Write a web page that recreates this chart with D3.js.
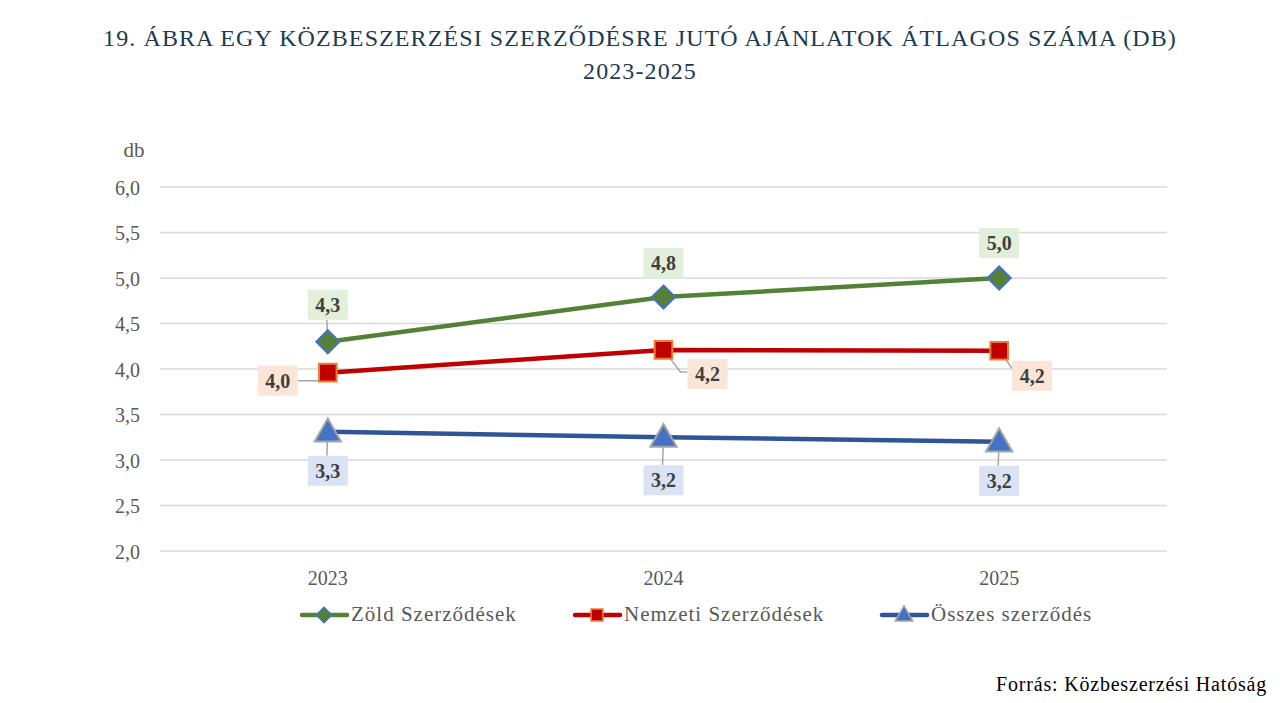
<!DOCTYPE html>
<html lang="hu">
<head>
<meta charset="UTF-8">
<title>Ajánlatok átlagos száma</title>
<script src="https://cdn.jsdelivr.net/npm/d3@7/dist/d3.min.js"></script>
<style>
  body{margin:0;background:#fff;}
  svg text{font-family:"Liberation Serif","DejaVu Serif",serif;}
</style>
</head>
<body>
<div id="chart"></div>
<script>
// data
var years=["2023","2024","2025"];
var zold=[4.3,4.79,5.0];
var nemzeti=[3.96,4.21,4.2];
var osszes=[3.31,3.25,3.2];
var zoldLabels=["4,3","4,8","5,0"];
var nemzetiLabels=["4,0","4,2","4,2"];
var osszesLabels=["3,3","3,2","3,2"];
var yTicks=[2.0,2.5,3.0,3.5,4.0,4.5,5.0,5.5,6.0];

var W=1280,H=703;
var svg=d3.select("#chart").append("svg").attr("width",W).attr("height",H);

var x=d3.scaleBand().domain(years).range([160,1167]);
var y=d3.scaleLinear().domain([2,6]).range([551,187]);
var cx=function(i){return x(years[i])+x.bandwidth()/2;};
var fmt=function(v){return d3.format(".1f")(v).replace(".",",");};

// title
svg.append("text").attr("x",640).attr("y",46).attr("text-anchor","middle")
  .attr("font-size",24).attr("letter-spacing",1.1).attr("fill","#1d3b4f")
  .text("19. ÁBRA EGY KÖZBESZERZÉSI SZERZŐDÉSRE JUTÓ AJÁNLATOK ÁTLAGOS SZÁMA (DB)");
svg.append("text").attr("x",640).attr("y",79).attr("text-anchor","middle")
  .attr("font-size",24).attr("letter-spacing",1.1).attr("fill","#1d3b4f").text("2023-2025");

// grid
svg.append("g").selectAll("line").data(yTicks).enter().append("line")
  .attr("x1",160).attr("x2",1167)
  .attr("y1",function(d){return y(d);}).attr("y2",function(d){return y(d);})
  .attr("stroke","#d9d9d9").attr("stroke-width",1.5);

// y axis labels
var yAxis=d3.axisLeft(y).tickValues(yTicks).tickFormat(fmt).tickSize(0).tickPadding(0);
var ya=svg.append("g").attr("transform","translate(140,0)").call(yAxis);
ya.select(".domain").remove();
ya.selectAll("text").attr("font-size",20).attr("fill","#595959")
  .style("font-family","'Liberation Serif',serif").attr("dy","0.35em");
svg.append("text").attr("x",134).attr("y",157).attr("text-anchor","middle")
  .attr("font-size",21).attr("fill","#595959").text("db");

// x axis labels
var xAxis=d3.axisBottom(x).tickSize(0).tickPadding(0);
var xa=svg.append("g").attr("transform","translate(0,571)").call(xAxis);
xa.select(".domain").remove();
xa.selectAll("text").attr("font-size",20).attr("fill","#595959")
  .style("font-family","'Liberation Serif',serif").attr("dy","0.7em");

var series=[
  {name:"Zöld Szerződések",vals:zold,labels:zoldLabels,line:"#548235",fill:"#548235",stroke:"#4472c4",
   sym:d3.symbolDiamond2,size:340,box:"#e2efda",
   off:[[0,-37],[0,-34],[0,-35]]},
  {name:"Nemzeti Szerződések",vals:nemzeti,labels:nemzetiLabels,line:"#c00000",fill:"#c00000",stroke:"#ed7d31",
   sym:d3.symbolSquare,size:310,box:"#fbe5d6",
   off:[[-50,8],[44,24],[33,25]]},
  {name:"Összes szerződés",vals:osszes,labels:osszesLabels,line:"#2f5597",fill:"#4472c4",stroke:"#a5a5a5",
   sym:d3.symbolTriangle,size:300,box:"#dae3f3",
   off:[[0,39],[0,43],[0,39]]}
];

var line=d3.line().x(function(d,i){return cx(i);}).y(function(d){return y(d);});

series.forEach(function(s){
  svg.append("path").datum(s.vals).attr("d",line)
    .attr("fill","none").attr("stroke",s.line).attr("stroke-width",4.5).attr("stroke-linecap","round");
});

// leader lines (under markers)
series.forEach(function(s){
  s.vals.forEach(function(v,i){
    var px=cx(i),py=y(v),lx=px+s.off[i][0],ly=y(v)+s.off[i][1];
    var pts=null;
    if(s.off[i][0]===0){
      if(Math.abs(s.off[i][1])>36) pts=[[px,py],[px-1,ly+(s.off[i][1]>0?-15:15)]];
    } else if(s.off[i][0]<0){
      pts=[[px,py],[px-10,py+8],[lx+20,ly]];
    } else {
      pts=[[px,py],[px+17,ly-2],[lx-20,ly-2]];
    }
    if(pts) svg.append("path").attr("d",d3.line()(pts)).attr("fill","none")
      .attr("stroke","#a6a6a6").attr("stroke-width",1.5);
  });
});

series.forEach(function(s){
  svg.append("g").selectAll("path").data(s.vals).enter().append("path")
    .attr("transform",function(d,i){return "translate("+cx(i)+","+(y(d)+(s.sym===d3.symbolTriangle?2:0))+")";})
    .attr("d",d3.symbol().type(s.sym).size(s.size))
    .attr("fill",s.fill).attr("stroke",s.stroke).attr("stroke-width",2);
});

// data labels
series.forEach(function(s){
  var g=svg.append("g").selectAll("g").data(s.vals).enter().append("g")
    .attr("transform",function(d,i){return "translate("+(cx(i)+s.off[i][0])+","+(y(d)+s.off[i][1])+")";});
  g.append("rect").attr("x",-20).attr("y",-15).attr("width",40).attr("height",30).attr("fill",s.box);
  g.append("text").attr("text-anchor","middle").attr("dy","0.35em")
    .attr("font-size",20).attr("font-weight","bold").attr("fill","#404040")
    .text(function(d,i){return s.labels[i];});
});

// legend
var legX=[300,573,880];
series.forEach(function(s,i){
  var g=svg.append("g").attr("transform","translate("+legX[i]+",615)");
  g.append("line").attr("x1",2).attr("x2",47).attr("stroke",s.line).attr("stroke-width",4.5).attr("stroke-linecap","round");
  g.append("path").attr("transform","translate(24,"+(s.sym===d3.symbolTriangle?1:0)+")")
    .attr("d",d3.symbol().type(s.sym).size(s.size*0.45))
    .attr("fill",s.fill).attr("stroke",s.stroke).attr("stroke-width",1.5);
  g.append("text").attr("x",51).attr("y",6).attr("font-size",21).attr("letter-spacing",1)
    .attr("fill","#595959").text(s.name);
});

// source
svg.append("text").attr("x",1267).attr("y",691).attr("text-anchor","end")
  .attr("font-size",20).attr("letter-spacing",0.8).attr("fill","#000").text("Forrás: Közbeszerzési Hatóság");
</script>
</body>
</html>
